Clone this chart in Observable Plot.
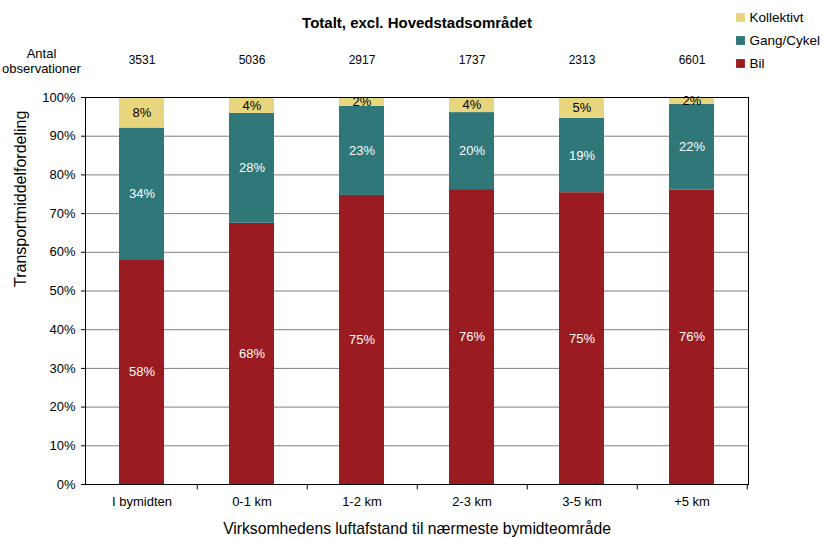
<!DOCTYPE html>
<html>
<head>
<meta charset="utf-8">
<script src="https://cdn.jsdelivr.net/npm/d3@7"></script>
<script src="https://cdn.jsdelivr.net/npm/@observablehq/plot@0.6"></script>
<style>
  html, body { margin: 0; padding: 0; background: #fff; }
  #chart svg { display: block; }
</style>
</head>
<body>
<div id="chart"></div>
<script>
const titleText = "Totalt, excl. Hovedstadsområdet";
const obsLabel = "Antal\nobservationer";
const yTitle = "Transportmiddelfordeling";
const xTitle = "Virksomhedens luftafstand til nærmeste bymidteområde";

const categories = ["I bymidten", "0-1 km", "1-2 km", "2-3 km", "3-5 km", "+5 km"];
const observations = [3531, 5036, 2917, 1737, 2313, 6601];
const series = ["Bil", "Gang/Cykel", "Kollektivt"];
const legendOrder = ["Kollektivt", "Gang/Cykel", "Bil"];
const colors = ["#9B1C20", "#2F7779", "#E8D67F"];
const bil = [58.1, 67.5, 74.7, 76.2, 75.4, 76.1];
const gangCykel = [34.0, 28.4, 23.0, 19.9, 19.2, 22.1];
const kollektivt = [7.9, 4.1, 2.3, 3.9, 5.4, 1.8];
const yTicks = [0, 10, 20, 30, 40, 50, 60, 70, 80, 90, 100];

const valuesBySeries = {"Bil": bil, "Gang/Cykel": gangCykel, "Kollektivt": kollektivt};
const data = [];
categories.forEach((c, i) => {
  series.forEach(s => data.push({category: c, series: s, value: valuesBySeries[s][i]}));
});
const obsData = categories.map((c, i) => ({category: c, n: observations[i]}));

const font = "'Liberation Sans', Arial, sans-serif";
const W = 823, H = 538;
const mL = 85, mR = 75, mT = 97, mB = 54;
const half = (W - mL - mR) / categories.length / 2;
const pct = d => Math.round(d.value) + "%";

const legendMarks = [];
legendOrder.forEach((s, k) => {
  const dy = -80 + k * 23;
  legendMarks.push(Plot.dot([s], {frameAnchor: "top-right", dx: -8, dy, symbol: "square", r: 5, fill: d => d}));
  legendMarks.push(Plot.text([s], {frameAnchor: "top-right", dx: 1, dy, text: d => d, textAnchor: "start", lineAnchor: "middle", fontSize: 13.5, fill: "#000"}));
});

const chart = Plot.plot({
  width: W,
  height: H,
  marginLeft: mL,
  marginRight: mR,
  marginTop: mT,
  marginBottom: mB,
  style: {fontFamily: font, background: "#fff", color: "#000", overflow: "visible"},
  x: {domain: categories, paddingInner: 0.59, paddingOuter: 0.295, label: null},
  y: {domain: [0, 100], label: null},
  color: {domain: series, range: colors},
  marks: [
    Plot.gridY(yTicks, {stroke: "#7f7f7f", strokeOpacity: 1}),
    Plot.barY(data, {x: "category", y: "value", fill: "series", order: series}),
    Plot.text(data, Plot.stackY({x: "category", y: "value", z: "series", order: series,
      text: d => d.series !== "Kollektivt" ? pct(d) : null, fill: "#fff", fontSize: 13})),
    Plot.text(data, Plot.stackY({x: "category", y: "value", z: "series", order: series,
      text: d => d.series === "Kollektivt" ? pct(d) : null, fill: "#000", fontSize: 13})),
    Plot.frame({stroke: "#000"}),
    Plot.axisY(yTicks, {tickSize: 4, tickPadding: 6, fontSize: 13, tickFormat: d => d + "%", label: null}),
    Plot.axisX({tickSize: 0, tickPadding: 12, fontSize: 13, label: null}),
    Plot.ruleX(categories, {x: d => d, dx: half, y1: 0, y2: -1.4, stroke: "#000"}),
    Plot.text(obsData, {x: "category", text: d => String(d.n), frameAnchor: "top", dy: -37, lineAnchor: "middle", fontSize: 12}),
    Plot.text([obsLabel], {frameAnchor: "top-left", dx: -44, dy: -37, text: d => d, textAnchor: "middle", lineAnchor: "middle", fontSize: 13, lineHeight: 1.2}),
    Plot.text([titleText], {frameAnchor: "top", dy: -74, text: d => d, lineAnchor: "middle", fontSize: 15, fontWeight: "bold"}),
    Plot.text([yTitle], {frameAnchor: "left", dx: -65, dy: -4, rotate: -90, text: d => d, lineAnchor: "middle", fontSize: 16}),
    Plot.text([xTitle], {frameAnchor: "bottom", dy: 44, text: d => d, lineAnchor: "middle", fontSize: 15.7}),
    ...legendMarks
  ]
});
document.getElementById("chart").appendChild(chart);
</script>
</body>
</html>
